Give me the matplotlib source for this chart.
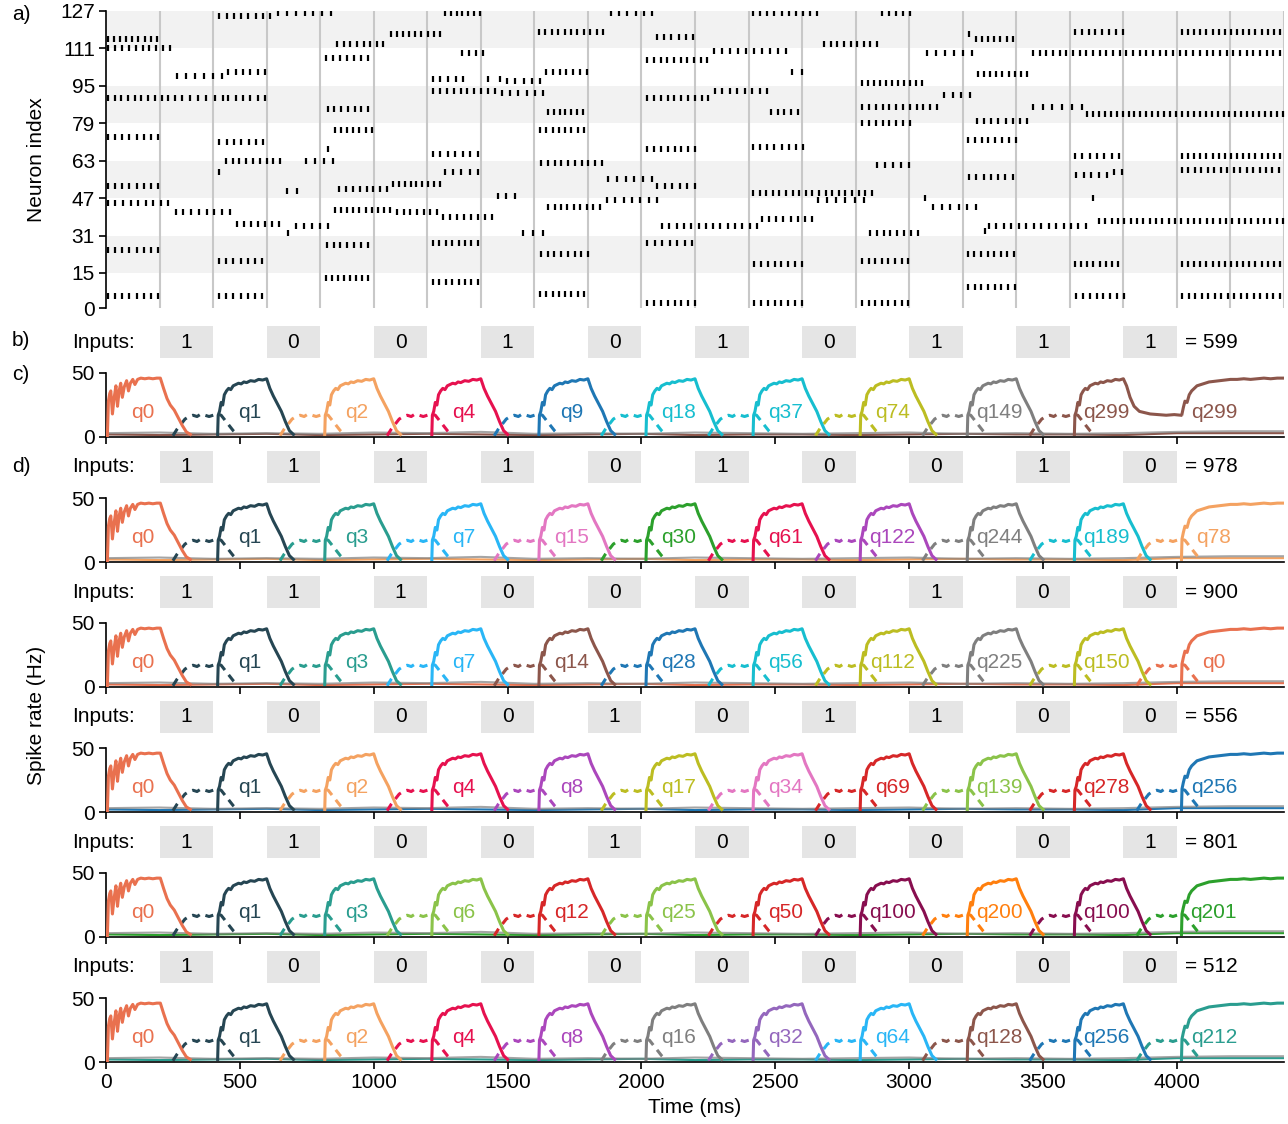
import matplotlib.pyplot as plt
from matplotlib.patches import Rectangle
import numpy as np

plt.rcParams['font.family'] = ['Liberation Sans', 'DejaVu Sans']
plt.rcParams['font.size'] = 15

# raster: (neuron, first spike ms, last spike ms, number of spikes)
spike_trains = [
    (115, 7, 190, 9), (111, 7, 240, 10), (90, 7, 258, 11), (90, 283, 436, 6),
    (90, 457, 594, 6), (99, 264, 432, 6), (101, 457, 594, 6), (73, 7, 195, 8),
    (52, 7, 195, 8), (45, 7, 233, 9), (41, 260, 462, 8), (36, 488, 647, 7),
    (25, 7, 195, 8), (5, 7, 195, 8), (125, 423, 613, 8), (126, 643, 840, 7),
    (71, 423, 588, 7), (63, 448, 650, 9), (58, 423, 423, 1), (20, 423, 582, 7),
    (5, 423, 582, 7), (50, 677, 712, 2), (63, 747, 847, 4), (32, 681, 681, 1),
    (35, 710, 830, 5), (68, 830, 830, 1), (107, 822, 979, 7), (113, 864, 1036, 8),
    (85, 828, 979, 7), (76, 856, 992, 7), (51, 872, 1049, 8), (42, 856, 1060, 10),
    (27, 824, 979, 7), (13, 822, 979, 8), (117, 1064, 1247, 9), (98, 1221, 1334, 5),
    (93, 1221, 1453, 10), (66, 1221, 1389, 7), (28, 1221, 1389, 8), (11, 1221, 1389, 8),
    (126, 1266, 1397, 7), (109, 1330, 1408, 4), (98, 1427, 1471, 2), (97, 1498, 1621, 5),
    (92, 1479, 1632, 6), (58, 1266, 1389, 5), (53, 1072, 1247, 9), (41, 1087, 1236, 7),
    (39, 1258, 1441, 8), (48, 1464, 1527, 3), (32, 1557, 1632, 3), (118, 1617, 1856, 11),
    (101, 1643, 1796, 7), (84, 1651, 1781, 7), (76, 1621, 1785, 8), (62, 1625, 1852, 10),
    (43, 1651, 1845, 9), (23, 1625, 1800, 8), (6, 1621, 1785, 8), (126, 1886, 2039, 6),
    (55, 1875, 2039, 6), (46, 1871, 2058, 7), (116, 2058, 2192, 6), (106, 2022, 2246, 10),
    (90, 2022, 2250, 10), (68, 2022, 2200, 8), (52, 2058, 2200, 6), (35, 2077, 2431, 14),
    (28, 2022, 2189, 7), (2, 2022, 2200, 8), (110, 2271, 2540, 10), (93, 2275, 2469, 8),
    (126, 2417, 2656, 10), (69, 2417, 2603, 8), (49, 2417, 2860, 19), (46, 2660, 2830, 6),
    (38, 2450, 2637, 8), (19, 2420, 2600, 8), (2, 2420, 2600, 8), (101, 2562, 2600, 2),
    (84, 2483, 2585, 5), (113, 2682, 2880, 9), (126, 2898, 3003, 5), (96, 2824, 3048, 11),
    (86, 2824, 3104, 12), (79, 2824, 3003, 8), (61, 2879, 2999, 5), (32, 2853, 3033, 8),
    (20, 2824, 2996, 8), (2, 2824, 2996, 8), (109, 3066, 3234, 6), (91, 3130, 3227, 4),
    (47, 3059, 3059, 1), (43, 3089, 3249, 6), (117, 3223, 3223, 1), (115, 3249, 3387, 7),
    (100, 3257, 3440, 9), (80, 3253, 3440, 8), (72, 3219, 3399, 8), (56, 3223, 3387, 7),
    (33, 3283, 3283, 1), (35, 3298, 3660, 14), (23, 3219, 3391, 8), (9, 3219, 3395, 8),
    (109, 3462, 4385, 38), (86, 3462, 3645, 6), (83, 3664, 4396, 34), (118, 3619, 3798, 8),
    (118, 4019, 4385, 17), (65, 3619, 3784, 7), (65, 4019, 4385, 17), (57, 3623, 3738, 5),
    (58, 3765, 3795, 2), (59, 4019, 4381, 16), (47, 3686, 3686, 1), (37, 3709, 4396, 30),
    (19, 3619, 3780, 8), (19, 4019, 4385, 17), (5, 3623, 3802, 8), (5, 4019, 4385, 16),
]

inputs = [
    [1, 0, 0, 1, 0, 1, 0, 1, 1, 1],
    [1, 1, 1, 1, 0, 1, 0, 0, 1, 0],
    [1, 1, 1, 0, 0, 0, 0, 1, 0, 0],
    [1, 0, 0, 0, 1, 0, 1, 1, 0, 0],
    [1, 1, 0, 0, 1, 0, 0, 0, 0, 1],
    [1, 0, 0, 0, 0, 0, 0, 0, 0, 0],
]
results = [599, 978, 900, 556, 801, 512]

state_labels = [
    ['q0', 'q1', 'q2', 'q4', 'q9', 'q18', 'q37', 'q74', 'q149', 'q299', 'q299'],
    ['q0', 'q1', 'q3', 'q7', 'q15', 'q30', 'q61', 'q122', 'q244', 'q189', 'q78'],
    ['q0', 'q1', 'q3', 'q7', 'q14', 'q28', 'q56', 'q112', 'q225', 'q150', 'q0'],
    ['q0', 'q1', 'q2', 'q4', 'q8', 'q17', 'q34', 'q69', 'q139', 'q278', 'q256'],
    ['q0', 'q1', 'q3', 'q6', 'q12', 'q25', 'q50', 'q100', 'q200', 'q100', 'q201'],
    ['q0', 'q1', 'q2', 'q4', 'q8', 'q16', 'q32', 'q64', 'q128', 'q256', 'q212'],
]

state_colors = {
    'q0': '#e9714f', 'q1': '#264653', 'q2': '#f4a261', 'q3': '#2a9d8f',
    'q4': '#e6114f', 'q6': '#8bc34a', 'q7': '#29b6f6', 'q8': '#ab47bc',
    'q9': '#1f77b4', 'q12': '#d62728', 'q14': '#8c564b', 'q15': '#e377c2',
    'q16': '#7f7f7f', 'q17': '#bcbd22', 'q18': '#17becf', 'q25': '#8bc34a',
    'q28': '#1f77b4', 'q30': '#2ca02c', 'q32': '#9467bd', 'q34': '#e377c2',
    'q37': '#17becf', 'q50': '#d62728', 'q56': '#17becf', 'q61': '#e6114f',
    'q64': '#29b6f6', 'q69': '#d62728', 'q74': '#bcbd22', 'q78': '#f4a261',
    'q100': '#880e4f', 'q112': '#bcbd22', 'q122': '#ab47bc', 'q128': '#8c564b',
    'q139': '#8bc34a', 'q149': '#7f7f7f', 'q150': '#bcbd22', 'q189': '#17becf',
    'q200': '#ff7f0e', 'q201': '#2ca02c', 'q212': '#2a9d8f', 'q225': '#7f7f7f',
    'q244': '#7f7f7f', 'q256': '#1f77b4', 'q278': '#d62728', 'q299': '#8c564b',
}

# rate traces, ms after state onset -> Hz
first_t = [5, 9, 14, 18, 24, 30, 37, 43, 49, 55, 61, 68, 77, 84, 91, 100, 108, 118, 130,
           145, 160, 175, 190, 203, 215, 228, 240, 255, 270, 285, 300, 315]
first_v = [0, 28, 34, 36, 18, 30, 40, 24, 36, 42, 31, 39, 44, 36, 42, 45, 41, 45, 46,
           45.5, 46, 45.5, 46, 46, 38, 30, 25, 21, 15, 9, 4, 2]
solid_t = [17, 19, 24, 30, 36, 42, 50, 58, 66, 75, 85, 95, 105, 115, 125, 140, 155, 170,
           185, 200, 212, 225, 240, 255, 270, 285, 300]
solid_v = [2, 17, 20, 27, 25, 33, 36, 38, 37, 40, 41, 42, 41.5, 43, 42.5, 44, 43.5, 45,
           44.5, 45.5, 38, 32, 26, 20, 12, 5, 2]
hold_t = [17, 19, 24, 30, 36, 42, 50, 58, 66, 75, 85, 95, 105, 115, 125, 140, 155, 170,
          185, 200, 212, 225, 240, 260, 280, 300, 330, 360, 390, 415]
hold_v = [2, 17, 20, 27, 25, 33, 36, 38, 37, 40, 41, 42, 41.5, 43, 42.5, 44, 43.5, 45,
          44.5, 45.5, 40, 31, 24, 20, 19, 18, 17.5, 17, 17.5, 17]
drive_t = [-150, -135, -120, -105, -90, -75, -60, -45, -30, -15, 0, 15, 30, 45, 60, 75, 90]
drive_v = [1, 6, 10, 14, 16, 17, 16, 18, 17, 16, 17, 18, 17, 13, 9, 5, 2]
last_t = [17, 19, 24, 30, 38, 46, 55, 65, 75, 90, 105, 120, 140, 160, 180, 200, 225, 250,
          275, 300, 325, 350, 375, 400]
last_v = [2, 18, 23, 28, 27, 33, 36, 38, 40, 41, 42, 43, 43.5, 44, 44.5, 45, 45, 45.5,
          45, 45.5, 46, 45.5, 46, 46]

# background activity of the other populations
base_t = [0, 200, 400, 600, 800, 1000, 1200, 1400, 1600, 1800, 2000, 2200, 2400, 2600,
          2800, 3000, 3200, 3400, 3600, 3800, 4000, 4200, 4400]
base_a = [3, 3.5, 2.5, 3, 2.5, 3.5, 3, 4, 2.5, 3, 2.5, 3.5, 3, 2.5, 3, 3.5, 2.5, 3, 2.5,
          3, 4, 4.5, 4.5]
base_b = [2, 1.5, 2, 2.5, 1.5, 2, 2.5, 2, 1.5, 2, 2.5, 1.5, 2, 2, 1.5, 2, 2.5, 2, 2,
          1.5, 3, 3, 3]

W, H = 1288, 1124
fig = plt.figure(figsize=(W / 100, H / 100), dpi=100)


def px_axes(x0, y0, x1, y1):
    return fig.add_axes([x0 / W, 1 - y1 / H, (x1 - x0) / W, (y1 - y0) / H])


# a) raster
ax = px_axes(106, 11, 1284, 308)
for lo in [15, 47, 79, 111]:
    ax.axhspan(lo, lo + 16, color='#f2f2f2', lw=0, zorder=0)
for x in range(200, 4401, 200):
    ax.axvline(x, color='#c8c8c8', lw=1.5, zorder=1)
for n, t0, t1, k in spike_trains:
    ts = np.linspace(t0, t1, k)
    ax.plot(ts, [n] * k, ls='none', marker='|', ms=4.5, mew=1.6, color='black', zorder=2)
ax.set_xlim(0, 4400)
ax.set_ylim(0, 127)
ax.set_yticks([0, 15, 31, 47, 63, 79, 95, 111, 127])
ax.set_xticks([])
for s in ['top', 'right', 'bottom']:
    ax.spines[s].set_visible(False)
ax.spines['left'].set_linewidth(1.2)
ax.tick_params(axis='y', length=5, width=1.2, pad=3)

for i in range(6):
    off = 125 * i
    # input row
    ia = px_axes(106, 326 + off, 1284, 358 + off)
    ia.set_xlim(0, 4400)
    ia.set_ylim(0, 1)
    ia.axis('off')
    for j, d in enumerate(inputs[i]):
        ia.add_patch(Rectangle((200 + 400 * j, 0), 200, 1, color='#e5e5e5', lw=0))
        ia.text(300 + 400 * j, 0.5, str(d), ha='center', va='center')
    ia.text(-127, 0.5, 'Inputs:', ha='left', va='center', clip_on=False)
    ia.text(4030, 0.5, '= %d' % results[i], ha='left', va='center', clip_on=False)

    # rate panel
    ra = px_axes(106, 373 + off, 1284, 437 + off)
    labels = state_labels[i]
    ra.plot(base_t, base_b, color=state_colors[labels[-1]], lw=1.5, zorder=1)
    ra.plot(base_t, base_a, color='#7f7f7f', lw=1.5, alpha=0.7, zorder=1)
    for k, lab in enumerate(labels):
        c = state_colors[lab]
        T = 400 * k
        repeated = k > 0 and labels[k - 1] == lab
        if k == 0:
            ra.plot(np.array(first_t) + T, first_v, color=c, lw=2.2, zorder=3)
        else:
            if not repeated:
                ra.plot(np.array(drive_t) + T, drive_v, color=c, lw=2.2,
                        dashes=(2.7, 2), zorder=2)
            if k == len(labels) - 1:
                s = 1 if repeated else 0
                ra.plot(np.array(last_t[s:]) + T, last_v[s:], color=c, lw=2.2, zorder=3)
            elif labels[k + 1] == lab:
                ra.plot(np.array(hold_t) + T, hold_v, color=c, lw=2.2, zorder=3)
            else:
                ra.plot(np.array(solid_t) + T, solid_v, color=c, lw=2.2, zorder=3)
        ra.text(T + 138, 19, lab, color=c, ha='center', va='center', zorder=4)
    ra.set_xlim(0, 4400)
    ra.set_ylim(0, 50)
    ra.set_yticks([0, 50])
    ra.set_xticks(range(0, 4001, 500))
    if i < 5:
        ra.set_xticklabels([])
    else:
        ra.set_xlabel('Time (ms)', labelpad=4)
    for s in ['top', 'right']:
        ra.spines[s].set_visible(False)
    ra.spines['left'].set_linewidth(1.2)
    ra.spines['bottom'].set_linewidth(1.2)
    ra.tick_params(length=5, width=1.2, pad=3)

fig.text(12 / W, 1 - 15 / H, 'a)', va='center')
fig.text(12 / W, 1 - 340 / H, 'b)', va='center')
fig.text(12 / W, 1 - 374 / H, 'c)', va='center')
fig.text(12 / W, 1 - 466 / H, 'd)', va='center')
fig.text(37 / W, 1 - 160 / H, 'Neuron index', rotation=90, ha='center', va='center')
fig.text(37 / W, 1 - 715 / H, 'Spike rate (Hz)', rotation=90, ha='center', va='center')

fig.savefig('out.png', dpi=100)
